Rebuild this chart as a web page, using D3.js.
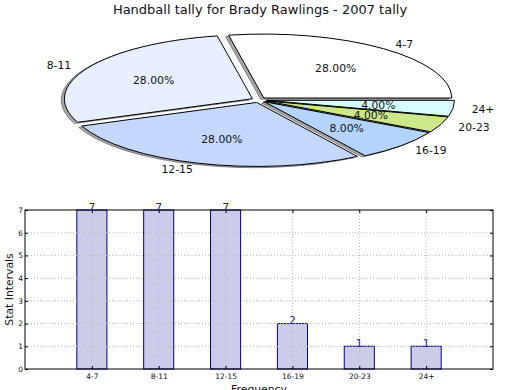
<!DOCTYPE html>
<html><head><meta charset="utf-8">
<script src="https://cdn.jsdelivr.net/npm/d3@7"></script>
<style>body{margin:0;background:#fff}svg{display:block}text{font-family:"DejaVu Sans",sans-serif}</style>
</head><body><svg id="c" width="520" height="390"></svg>
<script>
const title = "Handball tally for Brady Rawlings - 2007 tally";
const categories = ["4-7","8-11","12-15","16-19","20-23","24+"];
const counts = [7,7,7,2,1,1];
const pieColors = ["#ffffff","#e8f0ff","#c4d8ff","#b4d4ff","#cde88a","#d8ffff"];
const yTicks = [0,1,2,3,4,5,6,7];
const yLabel = "Stat Intervals";
const xLabel = "Frequency";

const svg = d3.select("#c");
svg.append("rect").attr("width",520).attr("height",390).attr("fill","#fff");

svg.append("text").attr("x",260).attr("y",14).attr("text-anchor","middle")
  .attr("font-size",13).attr("fill","#111").text(title);

// ---- Pie (elliptical, exploded, shadowed) ----
const cx = 259, cy = 100, rx = 188, ry = 64, explode = 0.04;
const total = d3.sum(counts);
const pie = d3.pie().sort(null).startAngle(Math.PI/2).endAngle(Math.PI/2 - 2*Math.PI);
const arcs = pie(counts);
const arc = d3.arc().innerRadius(0).outerRadius(1);
const gp = svg.append("g");
function off(d){ const a=(d.startAngle+d.endAngle)/2; return [explode*rx*Math.sin(a), -explode*ry*Math.cos(a), a]; }
// shadows
arcs.forEach((d,i)=>{
  const [dx,dy]=off(d);
  gp.append("g").attr("transform",`translate(${cx+dx-3.2},${cy+dy+1.3}) scale(${rx},${ry})`)
    .append("path").attr("d",arc(d)).attr("fill","#000").attr("fill-opacity",0.35)
    .attr("stroke","#000").attr("stroke-opacity",0.35).attr("stroke-width",1).attr("vector-effect","non-scaling-stroke");
});
arcs.forEach((d,i)=>{
  const [dx,dy]=off(d);
  gp.append("g").attr("transform",`translate(${cx+dx},${cy+dy}) scale(${rx},${ry})`)
    .append("path").attr("d",arc(d)).attr("fill",pieColors[i])
    .attr("stroke","#000").attr("stroke-width",1).attr("vector-effect","non-scaling-stroke");
});
arcs.forEach((d,i)=>{
  const [dx,dy,a]=off(d);
  const ux=Math.sin(a), uy=-Math.cos(a);
  const lx=cx+dx+1.1*rx*ux, ly=cy+dy+1.1*ry*uy;
  gp.append("text").attr("x",lx).attr("y",ly).attr("dy","0.35em")
    .attr("text-anchor", ux>0?"start":"end").attr("font-size",10.8).attr("fill","#111").text(categories[i]);
  const px=cx+dx+0.6*rx*ux, py=cy+dy+0.6*ry*uy;
  gp.append("text").attr("x",px).attr("y",py).attr("dy","0.35em")
    .attr("text-anchor","middle").attr("font-size",10.8).attr("fill","#111")
    .text(d3.format(".2f")(d.data/total*100)+"%");
});

// ---- Bar chart ----
const L=25,R=493,T=210,B=369;
const x = d3.scaleLinear().domain([-1,6]).range([L,R]);
const y = d3.scaleLinear().domain([0,7]).range([B,T]);
const bw = 0.45;
const gb = svg.append("g");
gb.selectAll("rect.bar").data(counts).join("rect").attr("class","bar")
  .attr("x",(d,i)=>x(i-bw/2)).attr("width",(d,i)=>x(i+bw/2)-x(i-bw/2))
  .attr("y",d=>y(d)).attr("height",d=>y(0)-y(d))
  .attr("fill","#ccccea").attr("stroke","#000080").attr("stroke-width",1);
// grid
yTicks.forEach(t=>{ if(t>0&&t<7) gb.append("line").attr("x1",L).attr("x2",R).attr("y1",y(t)).attr("y2",y(t))
  .attr("stroke","#b8b8b8").attr("stroke-dasharray","1,2"); });
categories.forEach((c,i)=>{ gb.append("line").attr("x1",x(i)).attr("x2",x(i)).attr("y1",T).attr("y2",B)
  .attr("stroke","#b8b8b8").attr("stroke-dasharray","1,2"); });
// frame
gb.append("rect").attr("x",L).attr("y",T).attr("width",R-L).attr("height",B-T)
  .attr("fill","none").attr("stroke","#000").attr("stroke-width",1);
// axes
const ya = d3.axisLeft(y).tickValues(yTicks).tickSizeInner(-3).tickSizeOuter(0).tickPadding(2).tickFormat(d3.format("d"));
const yg = gb.append("g").attr("transform",`translate(${L},0)`).call(ya);
const yr = gb.append("g").attr("transform",`translate(${R},0)`).call(d3.axisRight(y).tickValues(yTicks).tickSizeInner(-3).tickSizeOuter(0).tickFormat(""));
const xa = d3.axisBottom(x).tickValues(d3.range(categories.length)).tickFormat(i=>categories[i]).tickSizeInner(-3).tickSizeOuter(0).tickPadding(5);
const xg = gb.append("g").attr("transform",`translate(0,${B})`).call(xa);
const xt = gb.append("g").attr("transform",`translate(0,${T})`).call(d3.axisTop(x).tickValues(d3.range(categories.length)).tickSizeInner(-3).tickSizeOuter(0).tickFormat(""));
[yg,yr,xg,xt].forEach(g=>{ g.select(".domain").remove(); g.selectAll("text").attr("font-size",7.5).attr("fill","#111").attr("font-family","DejaVu Sans"); g.selectAll("line").attr("stroke","#000"); });
// value labels
gb.selectAll("text.val").data(counts).join("text").attr("class","val")
  .attr("x",(d,i)=>x(i)).attr("y",d=>y(d)+0.5).attr("text-anchor","middle")
  .attr("font-size",10.8).attr("fill","#22229a").text(d=>d);
svg.append("text").attr("transform",`translate(13,${(T+B)/2}) rotate(-90)`).attr("text-anchor","middle")
  .attr("font-size",10.8).attr("fill","#111").text(yLabel);
svg.append("text").attr("x",(L+R)/2).attr("y",393).attr("text-anchor","middle")
  .attr("font-size",10.8).attr("fill","#111").text(xLabel);
</script></body></html>
